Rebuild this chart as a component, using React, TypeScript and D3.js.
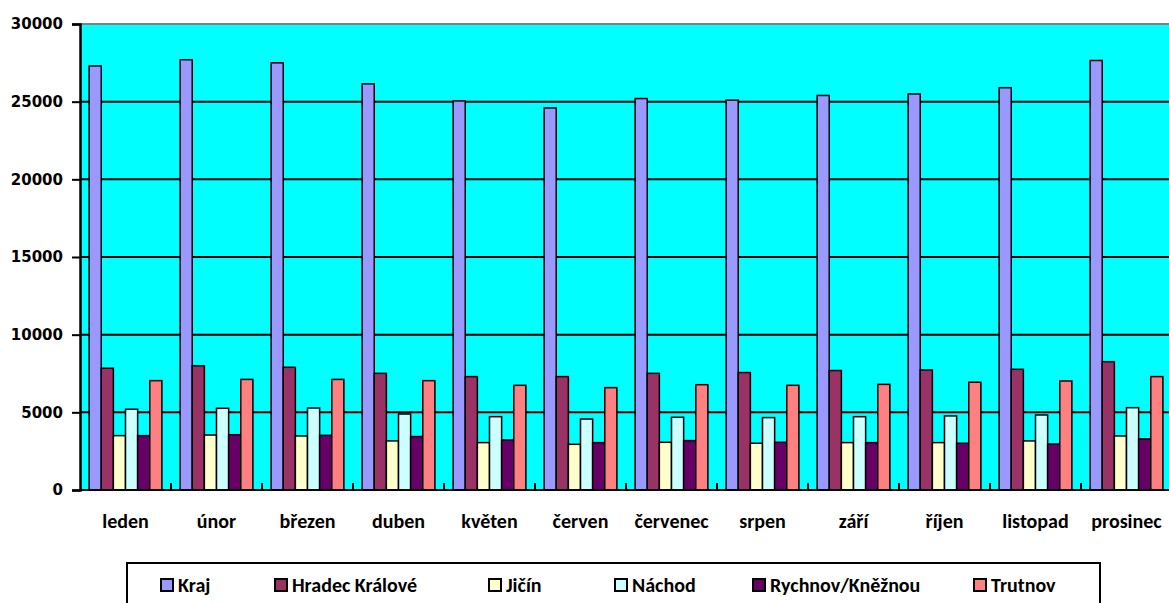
import { useEffect, useRef } from 'react';
import * as d3 from 'd3';

const months = ['leden', 'únor', 'březen', 'duben', 'květen', 'červen', 'červenec', 'srpen', 'září', 'říjen', 'listopad', 'prosinec'];
const seriesNames = ['Kraj', 'Hradec Králové', 'Jičín', 'Náchod', 'Rychnov/Kněžnou', 'Trutnov'];

const kraj = [27300, 27700, 27500, 26150, 25050, 24600, 25200, 25100, 25400, 25500, 25900, 27650];
const hradec = [7840, 8000, 7900, 7510, 7300, 7300, 7510, 7560, 7690, 7730, 7770, 8260];
const jicin = [3500, 3540, 3480, 3160, 3050, 2940, 3070, 3010, 3050, 3050, 3160, 3480];
const nachod = [5200, 5260, 5280, 4890, 4720, 4570, 4680, 4660, 4720, 4770, 4830, 5300];
const rychnov = [3500, 3560, 3520, 3440, 3220, 3050, 3180, 3070, 3050, 3010, 2960, 3290];
const trutnov = [7040, 7120, 7120, 7040, 6740, 6590, 6780, 6740, 6800, 6940, 7020, 7300];

const yTicks = [0, 5000, 10000, 15000, 20000, 25000, 30000];

const colors = ['#9999FF', '#993366', '#FFFFCC', '#CCFFFF', '#660066', '#FF8080'];

export default function App() {
  const svgRef = useRef<SVGSVGElement>(null);

  useEffect(() => {
    if (!svgRef.current) return;

    const svg = d3.select(svgRef.current);
    svg.selectAll('*').remove();

    const width = 1169;
    const height = 603;
    const left = 80;
    const right = 1172;
    const top = 24;
    const bottom = 490;
    const labelFont = 'Carlito, Lato, sans-serif';

    const values = [kraj, hradec, jicin, nachod, rychnov, trutnov];

    svg.append('rect')
      .attr('width', width)
      .attr('height', height)
      .attr('fill', 'white');

    const x0 = d3.scaleBand()
      .domain(months)
      .range([left, right])
      .paddingInner(0.2)
      .paddingOuter(0.1);

    const x1 = d3.scaleBand()
      .domain(seriesNames)
      .range([0, x0.bandwidth()]);

    const y = d3.scaleLinear()
      .domain([0, 30000])
      .range([bottom, top]);

    // plot background
    svg.append('rect')
      .attr('x', left)
      .attr('y', top)
      .attr('width', right - left)
      .attr('height', bottom - top)
      .attr('fill', '#00FFFF');

    svg.append('line')
      .attr('x1', left).attr('x2', right)
      .attr('y1', top).attr('y2', top)
      .attr('stroke', '#808080')
      .attr('stroke-width', 2);

    // gridlines
    svg.append('g')
      .selectAll('line')
      .data(yTicks.filter(t => t > 0 && t < 30000))
      .enter().append('line')
      .attr('x1', left).attr('x2', right)
      .attr('y1', d => y(d)).attr('y2', d => y(d))
      .attr('stroke', 'black')
      .attr('stroke-width', 2);

    // bars
    months.forEach((m, i) => {
      const g = svg.append('g').attr('transform', `translate(${x0(m)},0)`);
      g.selectAll('rect')
        .data(seriesNames.map((s, k) => ({ s, v: values[k][i], c: colors[k] })))
        .enter().append('rect')
        .attr('x', d => x1(d.s)!)
        .attr('width', x1.bandwidth())
        .attr('y', d => y(d.v))
        .attr('height', d => bottom - y(d.v))
        .attr('fill', d => d.c)
        .attr('stroke', 'black')
        .attr('stroke-width', 1.5);
    });

    // x axis
    const step = x0.step();
    svg.append('line')
      .attr('x1', left).attr('x2', right)
      .attr('y1', bottom).attr('y2', bottom)
      .attr('stroke', 'black')
      .attr('stroke-width', 2);

    svg.append('g')
      .selectAll('line')
      .data(months.slice(1))
      .enter().append('line')
      .attr('x1', d => x0(d)! - step * 0.1)
      .attr('x2', d => x0(d)! - step * 0.1)
      .attr('y1', bottom).attr('y2', bottom - 7)
      .attr('stroke', 'black')
      .attr('stroke-width', 2);

    svg.append('g')
      .selectAll('text')
      .data(months)
      .enter().append('text')
      .attr('x', d => x0(d)! + x0.bandwidth() / 2)
      .attr('y', 528)
      .attr('text-anchor', 'middle')
      .style('font-family', labelFont)
      .style('font-weight', 'bold')
      .style('font-size', '20px')
      .text(d => d);

    // y axis
    const yAxis = svg.append('g')
      .attr('transform', `translate(${left},0)`)
      .call(d3.axisLeft(y).tickValues(yTicks).tickSize(8).tickPadding(9).tickFormat(d3.format('d')));
    yAxis.select('.domain').attr('stroke', 'black').attr('stroke-width', 2.5);
    yAxis.selectAll('.tick line').attr('stroke-width', 2);
    yAxis.selectAll('.tick text')
      .attr('fill', 'black')
      .style('font-family', '"DejaVu Sans", Verdana, sans-serif')
      .style('font-weight', 'bold')
      .style('font-size', '15px');

    // legend
    const legendX = [160, 274, 488, 614, 752, 973];
    svg.append('rect')
      .attr('x', 127)
      .attr('y', 563)
      .attr('width', 1100 - 127)
      .attr('height', 60)
      .attr('fill', 'white')
      .attr('stroke', 'black')
      .attr('stroke-width', 2);

    const items = svg.append('g')
      .selectAll('g')
      .data(seriesNames)
      .enter().append('g')
      .attr('transform', (_d, i) => `translate(${legendX[i]},578)`);

    items.append('rect')
      .attr('x', 1).attr('y', 1)
      .attr('width', 12).attr('height', 12)
      .attr('fill', (_d, i) => colors[i])
      .attr('stroke', 'black')
      .attr('stroke-width', 2);

    items.append('text')
      .attr('x', 18)
      .attr('y', 14)
      .style('font-family', labelFont)
      .style('font-weight', 'bold')
      .style('font-size', '20px')
      .text(d => d);
  }, []);

  return (
    <svg
      ref={svgRef}
      width={1169}
      height={603}
      style={{ position: 'absolute', left: 0, top: 0 }}
    />
  );
}
